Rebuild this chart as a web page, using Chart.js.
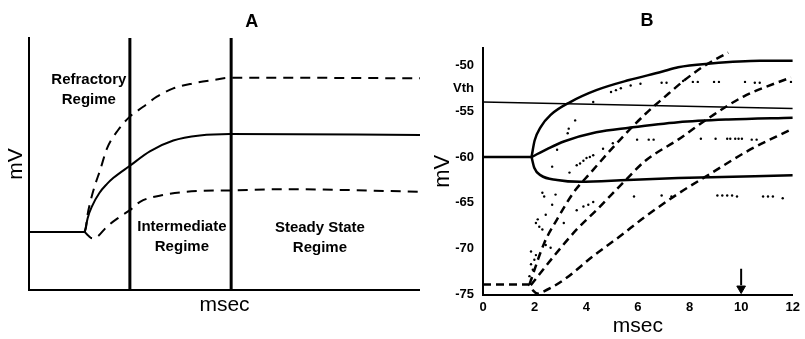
<!DOCTYPE html>
<html><head><meta charset="utf-8">
<script src="https://cdn.jsdelivr.net/npm/chart.js@4"></script>
<style>
html,body{margin:0;padding:0;background:#fff;width:805px;height:339px;overflow:hidden}
canvas{position:absolute;top:0}
#ca{left:0}
#cb{left:420px}
</style></head><body>
<canvas id="ca" width="420" height="339"></canvas>
<canvas id="cb" width="385" height="339"></canvas>
<script>
// ---------- Panel A (schematic, arbitrary units) ----------
const aBaseT = [0, 1.43];
const aBaseV = [2.3, 2.3];
const aMeanT = [1.43, 1.5, 1.62, 1.8, 1.99, 2.16, 2.58, 3.09, 3.69, 4.37, 5.14, 10];
const aMeanV = [2.3, 2.85, 3.35, 3.85, 4.2, 4.45, 4.93, 5.5, 5.93, 6.13, 6.19, 6.15];
const aUpperT = [1.42, 1.46, 1.49, 1.56, 1.69, 1.82, 1.99, 2.28, 2.58, 2.92, 3.27, 3.69, 4.2, 4.71, 5.14, 6.93, 10];
const aUpperV = [2.31, 2.51, 2.91, 3.44, 4.17, 4.76, 5.6, 6.35, 6.88, 7.27, 7.67, 8.0, 8.2, 8.33, 8.42, 8.42, 8.4];
const aLowerT = [1.42, 1.52, 1.62, 1.75, 1.99, 2.33, 2.58, 2.84, 3.43, 4.37, 5.14, 6.5, 10];
const aLowerV = [2.31, 2.15, 2.05, 2.12, 2.51, 2.91, 3.17, 3.5, 3.77, 3.93, 3.95, 4.0, 3.9];
const aBoundaryT = [2.58, 5.17];
const aRegimeNames = [["Refractory", "Regime"], ["Intermediate", "Regime"], ["Steady State", "Regime"]];

// ---------- Panel B (msec, mV) ----------
const bXTicks = [0, 2, 4, 6, 8, 10, 12];
const bYTicks = [-75, -70, -65, -60, -55, -52.5, -50];
const bYTickLabels = ["-75", "-70", "-65", "-60", "-55", "Vth", "-50"];
const bBaseT = [0, 1.88];
const bBaseV = [-60, -60];
const bUpperT = [1.88, 2.0, 2.24, 2.62, 3.38, 4.39, 5.66, 6.92, 7.56, 8.82, 10.72, 12];
const bUpperV = [-60, -58.2, -56.7, -55.4, -54.0, -52.7, -51.6, -50.7, -50.2, -49.8, -49.5, -49.5];
const bMiddleT = [1.88, 2.5, 3.13, 4.39, 5.66, 7.56, 9.5, 12];
const bMiddleV = [-60, -59.1, -58.3, -57.3, -56.8, -56.2, -55.9, -55.7];
const bLowerT = [1.88, 1.99, 2.24, 2.87, 3.76, 5.6, 7.56, 12];
const bLowerV = [-60, -61.2, -62.0, -62.5, -62.7, -62.5, -62.3, -62.0];
const bVthT = [0, 12];
const bVthV = [-54.0, -54.7];
const bDash1T = [1.8, 2.37, 2.87, 3.5, 4.14, 5.28, 6.29, 7.18, 7.81, 8.6, 9.5];
const bDash1V = [-73.9, -69.4, -66.8, -63.9, -61.8, -58.2, -55.3, -53.1, -51.6, -50.0, -48.6];
const bDash2T = [1.85, 2.75, 3.63, 4.39, 5.53, 6.29, 7.56, 8.82, 10.09, 11.93];
const bDash2V = [-74.0, -70.8, -67.9, -65.8, -62.5, -60.4, -58.1, -55.6, -53.4, -51.3];
const bDash3T = [0, 1.75, 1.92, 2.1, 2.24, 3.13, 4.27, 5.28, 6.29, 7.56, 8.82, 10.34, 11.86];
const bDash3V = [-73.9, -73.9, -74.5, -74.9, -74.8, -73.4, -70.8, -68.7, -66.5, -64.0, -61.8, -59.2, -57.1];
const bDotsT = [4.96, 5.15, 5.34, 5.72, 6.1, 6.92, 7.11, 7.75, 8.13, 8.32, 8.95, 9.14, 10.15, 10.53, 10.72, 11.93,
  4.27, 3.57, 3.32, 3.28, 2.87, 2.68, 3.35,
  3.63, 3.76, 3.89, 4.01, 4.14, 4.27, 4.65, 5.03, 5.97, 6.42, 6.61,
  8.44, 9.01, 9.46, 9.58, 9.77, 9.9, 10.03, 10.41, 10.6,
  3.63, 3.89, 4.08, 4.27, 5.85, 6.92, 7.3, 9.08, 9.27, 9.46, 9.65, 9.84, 10.85, 11.04, 11.23, 11.61,
  2.3, 2.37, 2.81, 2.68, 2.43, 2.12, 2.05, 2.18, 2.3, 3.13, 2.43, 2.62, 1.86, 2.05, 1.99, 1.86, 1.93, 1.8, 1.86];
const bDotsV = [-52.9, -52.7, -52.5, -52.2, -52.0, -51.9, -51.9, -51.7, -51.8, -51.8, -51.8, -51.8, -51.8, -51.9, -51.9, -51.8,
  -54.0, -56.0, -56.9, -57.4, -59.2, -61.05, -61.7,
  -60.9, -60.7, -60.4, -60.1, -60.0, -59.8, -59.1, -58.5, -58.1, -58.1, -58.1,
  -58.0, -58.0, -58.0, -58.0, -58.0, -58.0, -58.0, -58.1, -58.1,
  -65.8, -65.4, -65.2, -64.9, -64.3, -64.2, -64.3, -64.2, -64.2, -64.2, -64.2, -64.3, -64.3, -64.3, -64.3, -64.5,
  -63.9, -64.3, -64.1, -65.2, -66.3, -66.8, -67.2, -67.6, -67.9, -67.2, -69.6, -69.9, -70.3, -70.7, -71.2, -71.7, -72.3, -73.0, -73.4];
const bArrowT = [10, 10];
const bArrowV = [-72.2, -74.0];
const bArrowHeadT = [10];
const bArrowHeadV = [-74.35];

// ---------- helpers ----------
const FONT = "'Liberation Sans', Arial, Helvetica, sans-serif";
Chart.defaults.color = '#000';
Chart.defaults.font.family = FONT;
const pts = (xs, ys) => xs.map((x, i) => ({x: x, y: ys[i]}));
const line = (data, opt) => Object.assign({
  data: data, showLine: true, borderColor: '#000', backgroundColor: '#000',
  borderWidth: 2, pointRadius: 0, fill: false, tension: 0, cubicInterpolationMode: 'monotone'
}, opt || {});

const textPlugin = {
  id: 'texts',
  afterDraw(chart, args, opts) {
    const ctx = chart.ctx, xs = chart.scales.x, ys = chart.scales.y;
    ctx.save();
    ctx.fillStyle = '#000';
    ctx.textAlign = 'center';
    ctx.textBaseline = 'middle';
    (opts.items || []).forEach(it => {
      ctx.font = it.font;
      ctx.fillText(it.text, xs.getPixelForValue(it.x), ys.getPixelForValue(it.y));
    });
    ctx.restore();
  }
};

// ---------- Chart A ----------
const regimePos = [[1.53, 8.35, 7.55], [3.91, 2.5, 1.7], [7.44, 2.47, 1.67]];
const aItems = [{text: 'A', x: 5.7, y: 10.62, font: 'bold 18px ' + FONT}];
aRegimeNames.forEach((lines, i) => {
  lines.forEach((t, j) => aItems.push({text: t, x: regimePos[i][0], y: regimePos[i][1 + j], font: 'bold 15px ' + FONT}));
});

new Chart(document.getElementById('ca'), {
  type: 'scatter',
  data: {
    datasets: [
      line(pts(aBaseT, aBaseV), {cubicInterpolationMode: 'default'}),
      line(pts(aMeanT, aMeanV)),
      line(pts(aUpperT, aUpperV), {borderDash: [10, 7]}),
      line(pts(aLowerT, aLowerV), {borderDash: [10, 7]}),
      line(pts([aBoundaryT[0], aBoundaryT[0]], [0, 10]), {borderWidth: 3, cubicInterpolationMode: 'default'}),
      line(pts([aBoundaryT[1], aBoundaryT[1]], [0, 10]), {borderWidth: 3, cubicInterpolationMode: 'default'})
    ]
  },
  options: {
    responsive: false, animation: false, devicePixelRatio: 1,
    layout: {padding: {top: 38, left: 0, right: 0, bottom: 0}},
    plugins: {legend: {display: false}, tooltip: {enabled: false}, texts: {items: aItems}},
    scales: {
      x: {
        type: 'linear', min: 0, max: 10,
        afterFit: s => { s.height = 49; },
        ticks: {display: false},
        grid: {display: false, drawTicks: false},
        border: {display: true, color: '#000', width: 2},
        title: {display: true, text: 'msec', font: {family: FONT, size: 21}, color: '#000', padding: {top: 0, bottom: 21}}
      },
      y: {
        type: 'linear', min: 0, max: 10,
        afterFit: s => { s.width = 29; },
        ticks: {display: false},
        grid: {display: false, drawTicks: false},
        border: {display: true, color: '#000', width: 2},
        title: {display: true, text: 'mV', font: {family: FONT, size: 21}, color: '#000', padding: {top: 4, bottom: 0}}
      }
    }
  },
  plugins: [textPlugin]
});

// ---------- Chart B ----------
const dash = {borderDash: [8, 5], borderWidth: 2.5};
new Chart(document.getElementById('cb'), {
  type: 'scatter',
  data: {
    datasets: [
      line(pts(bVthT, bVthV), {borderWidth: 1.5, cubicInterpolationMode: 'default'}),
      line(pts(bBaseT, bBaseV), {borderWidth: 2.5, cubicInterpolationMode: 'default'}),
      line(pts(bUpperT, bUpperV), {borderWidth: 2.5}),
      line(pts(bMiddleT, bMiddleV), {borderWidth: 2.5}),
      line(pts(bLowerT, bLowerV), {borderWidth: 2.5}),
      line(pts(bDash1T, bDash1V), dash),
      line(pts(bDash2T, bDash2V), dash),
      line(pts(bDash3T, bDash3V), dash),
      {data: pts(bDotsT, bDotsV), showLine: false, pointRadius: 1.2, pointBorderWidth: 0, backgroundColor: '#000', borderColor: '#000'},
      line(pts(bArrowT, bArrowV), {borderWidth: 2, cubicInterpolationMode: 'default'}),
      {data: pts(bArrowHeadT, bArrowHeadV), showLine: false, pointStyle: 'triangle', rotation: 180, pointRadius: 5, backgroundColor: '#000', borderColor: '#000', borderWidth: 1}
    ]
  },
  options: {
    responsive: false, animation: false, devicePixelRatio: 1,
    layout: {padding: {top: 48, left: 0, right: 8, bottom: 0}},
    plugins: {legend: {display: false}, tooltip: {enabled: false},
      texts: {items: [{text: 'B', x: 6.35, y: -45.2, font: 'bold 18px ' + FONT}]}},
    scales: {
      x: {
        type: 'linear', min: 0, max: 12,
        afterBuildTicks: s => { s.ticks = bXTicks.map(v => ({value: v})); },
        afterFit: s => { s.height = 44.5; },
        ticks: {font: {family: FONT, size: 13, weight: 'bold'}, color: '#000', padding: 5, maxRotation: 0, autoSkip: false,
          callback: v => String(v)},
        grid: {display: false, drawTicks: false},
        border: {display: true, color: '#000', width: 2},
        title: {display: true, text: 'msec', font: {family: FONT, size: 21}, color: '#000', padding: {top: 0, bottom: 0}}
      },
      y: {
        type: 'linear', min: -75, max: -48.1,
        afterBuildTicks: s => { s.ticks = bYTicks.map(v => ({value: v})); },
        afterFit: s => { s.width = 63; },
        ticks: {font: {family: FONT, size: 13, weight: 'bold'}, color: '#000', padding: 9, autoSkip: false,
          callback: v => { const i = bYTicks.indexOf(v); return i >= 0 ? bYTickLabels[i] : ''; }},
        grid: {display: false, drawTicks: false},
        border: {display: true, color: '#000', width: 2},
        title: {display: true, text: 'mV', font: {family: FONT, size: 22}, color: '#000', padding: {top: 10, bottom: 0}}
      }
    }
  },
  plugins: [textPlugin]
});
</script>
</body></html>
